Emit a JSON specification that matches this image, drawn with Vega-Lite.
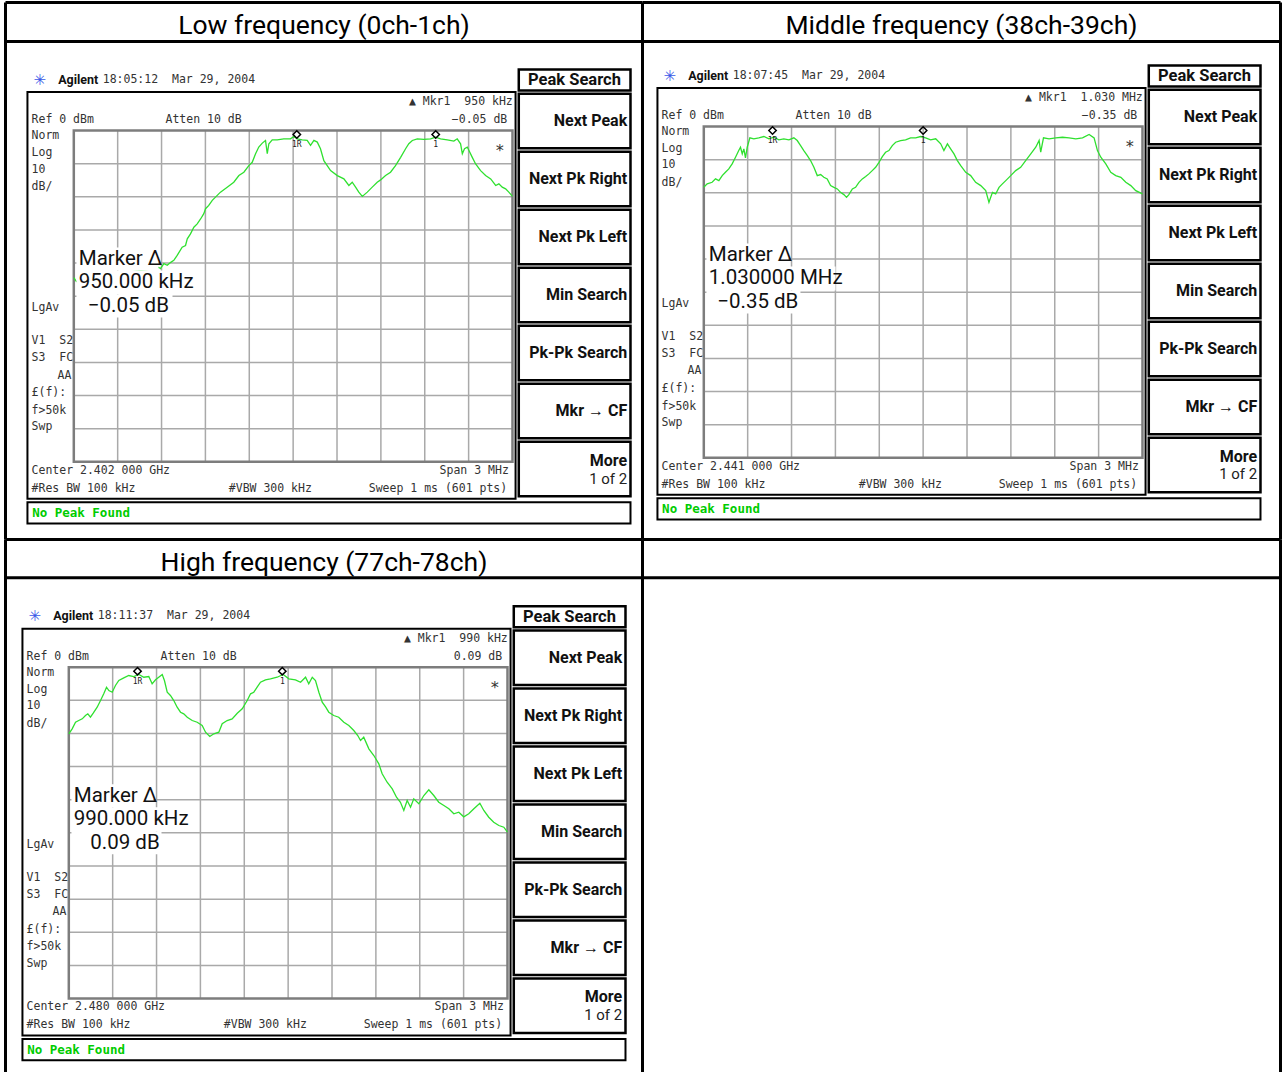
{
  "$schema": "https://vega.github.io/schema/vega-lite/v6.json",
  "background": "white",
  "padding": {"left": 3.5, "top": 0.5, "right": 0, "bottom": 0},
  "columns": 2,
  "align": "each",
  "bounds": "flush",
  "spacing": 0,
  "config": {"view": {"stroke": null}, "concat": {"spacing": 0}},
  "datasets": {
    "segments": [
      {"f": -1.2, "f2": -1.2, "dB": 0, "dB2": -100},
      {"f": -0.9, "f2": -0.9, "dB": 0, "dB2": -100},
      {"f": -0.6, "f2": -0.6, "dB": 0, "dB2": -100},
      {"f": -0.3, "f2": -0.3, "dB": 0, "dB2": -100},
      {"f": 0, "f2": 0, "dB": 0, "dB2": -100},
      {"f": 0.3, "f2": 0.3, "dB": 0, "dB2": -100},
      {"f": 0.6, "f2": 0.6, "dB": 0, "dB2": -100},
      {"f": 0.9, "f2": 0.9, "dB": 0, "dB2": -100},
      {"f": 1.2, "f2": 1.2, "dB": 0, "dB2": -100},
      {"f": -1.5, "f2": 1.5, "dB": -10, "dB2": -10},
      {"f": -1.5, "f2": 1.5, "dB": -20, "dB2": -20},
      {"f": -1.5, "f2": 1.5, "dB": -30, "dB2": -30},
      {"f": -1.5, "f2": 1.5, "dB": -40, "dB2": -40},
      {"f": -1.5, "f2": 1.5, "dB": -50, "dB2": -50},
      {"f": -1.5, "f2": 1.5, "dB": -60, "dB2": -60},
      {"f": -1.5, "f2": 1.5, "dB": -70, "dB2": -70},
      {"f": -1.5, "f2": 1.5, "dB": -80, "dB2": -80},
      {"f": -1.5, "f2": 1.5, "dB": -90, "dB2": -90}
    ],
    "table": [
      {"panel": "low", "f": -1.9671, "f2": 2.3891, "dB": 38.64, "dB2": 38.64},
      {"panel": "low", "f": -1.9671, "f2": -1.9671, "dB": 38.64, "dB2": -123.45},
      {"panel": "low", "f": -1.9671, "f2": 2.3891, "dB": 26.86, "dB2": 26.86},
      {"panel": "mid", "f": -1.9192, "f2": 2.4438, "dB": 37.43, "dB2": 37.43},
      {"panel": "mid", "f": -1.9192, "f2": -1.9192, "dB": 37.43, "dB2": -124.66},
      {"panel": "mid", "f": 2.4438, "f2": 2.4438, "dB": 37.43, "dB2": -124.66},
      {"panel": "mid", "f": -1.9192, "f2": 2.4438, "dB": 25.66, "dB2": 25.66},
      {"panel": "high", "f": -1.9329, "f2": 2.4233, "dB": 38.55, "dB2": 38.55},
      {"panel": "high", "f": -1.9329, "f2": -1.9329, "dB": 38.55, "dB2": -122.33},
      {"panel": "high", "f": -1.9329, "f2": 2.4233, "dB": 26.99, "dB2": 26.99},
      {"panel": "blank", "f": -1.9192, "f2": 2.4438, "dB": 38.55, "dB2": 38.55},
      {"panel": "blank", "f": -1.9192, "f2": -1.9192, "dB": 38.55, "dB2": -122.33},
      {"panel": "blank", "f": 2.4438, "f2": 2.4438, "dB": 38.55, "dB2": -122.33},
      {"panel": "blank", "f": -1.9192, "f2": 2.4438, "dB": 26.99, "dB2": 26.99}
    ],
    "boxes": [
      {"panel": "all", "kind": "grid", "f": -1.5, "f2": 1.5, "dB": 0, "dB2": -100},
      {"panel": "all", "kind": "frame", "f": -1.817, "f2": 1.521, "dB": 11.62, "dB2": -111.17},
      {"panel": "all", "kind": "status", "f": -1.817, "f2": 2.307, "dB": -112.2, "dB2": -118.62},
      {"panel": "all", "kind": "key", "f": 1.543, "f2": 2.307, "dB": 18.41, "dB2": 12.07},
      {"panel": "all", "kind": "key", "f": 1.543, "f2": 2.307, "dB": 11.08, "dB2": -5.37},
      {"panel": "all", "kind": "key", "f": 1.543, "f2": 2.307, "dB": -6.43, "dB2": -22.88},
      {"panel": "all", "kind": "key", "f": 1.543, "f2": 2.307, "dB": -23.94, "dB2": -40.39},
      {"panel": "all", "kind": "key", "f": 1.543, "f2": 2.307, "dB": -41.44, "dB2": -57.89},
      {"panel": "all", "kind": "key", "f": 1.543, "f2": 2.307, "dB": -58.95, "dB2": -75.4},
      {"panel": "all", "kind": "key", "f": 1.543, "f2": 2.307, "dB": -76.46, "dB2": -92.91},
      {"panel": "all", "kind": "key", "f": 1.543, "f2": 2.307, "dB": -93.96, "dB2": -110.41},
      {"panel": "low", "kind": "readout", "f": -1.482, "f2": -0.921, "dB": -35.32, "dB2": -42.26},
      {"panel": "low", "kind": "readout", "f": -1.482, "f2": -0.675, "dB": -42.26, "dB2": -49.5},
      {"panel": "low", "kind": "readout", "f": -1.482, "f2": -0.825, "dB": -49.5, "dB2": -56.44},
      {"panel": "mid", "kind": "readout", "f": -1.482, "f2": -0.921, "dB": -35.32, "dB2": -42.26},
      {"panel": "mid", "kind": "readout", "f": -1.482, "f2": -0.599, "dB": -42.26, "dB2": -49.5},
      {"panel": "mid", "kind": "readout", "f": -1.482, "f2": -0.839, "dB": -49.5, "dB2": -56.44},
      {"panel": "high", "kind": "readout", "f": -1.482, "f2": -0.921, "dB": -35.32, "dB2": -42.26},
      {"panel": "high", "kind": "readout", "f": -1.482, "f2": -0.688, "dB": -42.26, "dB2": -49.5},
      {"panel": "high", "kind": "readout", "f": -1.482, "f2": -0.866, "dB": -49.5, "dB2": -56.44}
    ],
    "texts": [
      {"panel": "all", "kind": "mono", "f": -1.789, "dB": 3.11, "text": "Ref 0 dBm"},
      {"panel": "all", "kind": "mono", "f": -0.873, "dB": 3.11, "text": "Atten 10 dB"},
      {"panel": "all", "kind": "mono", "f": -1.789, "dB": -1.6, "text": "Norm"},
      {"panel": "all", "kind": "mono", "f": -1.789, "dB": -6.85, "text": "Log"},
      {"panel": "all", "kind": "mono", "f": -1.789, "dB": -11.77, "text": "10"},
      {"panel": "all", "kind": "mono", "f": -1.789, "dB": -16.99, "text": "dB/"},
      {"panel": "all", "kind": "mono", "f": -1.789, "dB": -53.52, "text": "LgAv"},
      {"panel": "all", "kind": "mono", "f": -1.789, "dB": -63.6, "text": "V1\u00a0\u00a0S2"},
      {"panel": "all", "kind": "mono", "f": -1.789, "dB": -68.61, "text": "S3\u00a0\u00a0FC"},
      {"panel": "all", "kind": "monoR", "f": -1.516, "dB": -73.95, "text": "AA"},
      {"panel": "all", "kind": "mono", "f": -1.789, "dB": -79.17, "text": "£(f):"},
      {"panel": "all", "kind": "mono", "f": -1.789, "dB": -84.52, "text": "f>50k"},
      {"panel": "all", "kind": "mono", "f": -1.789, "dB": -89.56, "text": "Swp"},
      {"panel": "all", "kind": "mono", "f": -1.789, "dB": -108.06, "text": "#Res BW 100 kHz"},
      {"panel": "all", "kind": "mono", "f": -0.44, "dB": -108.06, "text": "#VBW 300 kHz"},
      {"panel": "all", "kind": "monoR", "f": 1.475, "dB": -102.63, "text": "Span 3 MHz"},
      {"panel": "all", "kind": "monoR", "f": 1.464, "dB": -108.06, "text": "Sweep 1 ms (601 pts)"},
      {"panel": "all", "kind": "monoC", "f": 1.413, "dB": -6.3, "text": "*"},
      {"panel": "all", "kind": "brand", "f": -1.607, "dB": 15.39, "text": "Agilent"},
      {"panel": "all", "kind": "logo", "f": -1.7325, "dB": 15.39, "text": "✳"},
      {"panel": "all", "kind": "keyC", "f": 1.924, "dB": 15.24, "text": "Peak Search"},
      {"panel": "all", "kind": "key", "f": 2.2845, "dB": 2.85, "text": "Next Peak"},
      {"panel": "all", "kind": "key", "f": 2.2845, "dB": -14.65, "text": "Next Pk Right"},
      {"panel": "all", "kind": "key", "f": 2.2845, "dB": -32.16, "text": "Next Pk Left"},
      {"panel": "all", "kind": "key", "f": 2.2845, "dB": -49.67, "text": "Min Search"},
      {"panel": "all", "kind": "key", "f": 2.2845, "dB": -67.17, "text": "Pk-Pk Search"},
      {"panel": "all", "kind": "key", "f": 2.2845, "dB": -84.68, "text": "Mkr → CF"},
      {"panel": "all", "kind": "key", "f": 2.2845, "dB": -99.61, "text": "More"},
      {"panel": "all", "kind": "sub", "f": 2.2845, "dB": -105.04, "text": "1 of 2"},
      {"panel": "all", "kind": "status", "f": -1.785, "dB": -115.39, "text": "No Peak Found"},
      {"panel": "low", "kind": "header", "f": 0.211, "dB": 29.19, "text": "Low frequency (0ch-1ch)"},
      {"panel": "low", "kind": "mono", "f": -1.302, "dB": 15.39, "text": "18:05:12\u00a0\u00a0Mar 29, 2004"},
      {"panel": "low", "kind": "mono", "f": -1.789, "dB": -102.63, "text": "Center 2.402 000 GHz"},
      {"panel": "low", "kind": "monoR", "f": 1.502, "dB": 8.54, "text": "▲ Mkr1\u00a0\u00a0950 kHz"},
      {"panel": "low", "kind": "monoR", "f": 1.464, "dB": 3.11, "text": "−0.05 dB"},
      {"panel": "low", "kind": "big", "f": -1.466, "dB": -38.73, "text": "Marker Δ"},
      {"panel": "low", "kind": "big", "f": -1.466, "dB": -45.79, "text": "950.000 kHz"},
      {"panel": "low", "kind": "big", "f": -1.404, "dB": -52.91, "text": "−0.05 dB"},
      {"panel": "mid", "kind": "header", "f": 0.262, "dB": 28.03, "text": "Middle frequency (38ch-39ch)"},
      {"panel": "mid", "kind": "mono", "f": -1.302, "dB": 15.39, "text": "18:07:45\u00a0\u00a0Mar 29, 2004"},
      {"panel": "mid", "kind": "mono", "f": -1.789, "dB": -102.63, "text": "Center 2.441 000 GHz"},
      {"panel": "mid", "kind": "monoR", "f": 1.502, "dB": 8.54, "text": "▲ Mkr1\u00a0\u00a01.030 MHz"},
      {"panel": "mid", "kind": "monoR", "f": 1.464, "dB": 3.11, "text": "−0.35 dB"},
      {"panel": "mid", "kind": "big", "f": -1.466, "dB": -38.73, "text": "Marker Δ"},
      {"panel": "mid", "kind": "big", "f": -1.466, "dB": -45.79, "text": "1.030000 MHz"},
      {"panel": "mid", "kind": "big", "f": -1.408, "dB": -52.91, "text": "−0.35 dB"},
      {"panel": "high", "kind": "header", "f": 0.245, "dB": 29.1, "text": "High frequency (77ch-78ch)"},
      {"panel": "high", "kind": "mono", "f": -1.302, "dB": 15.39, "text": "18:11:37\u00a0\u00a0Mar 29, 2004"},
      {"panel": "high", "kind": "mono", "f": -1.789, "dB": -102.63, "text": "Center 2.480 000 GHz"},
      {"panel": "high", "kind": "monoR", "f": 1.502, "dB": 8.54, "text": "▲ Mkr1\u00a0\u00a0990 kHz"},
      {"panel": "high", "kind": "monoR", "f": 1.464, "dB": 3.11, "text": "0.09 dB"},
      {"panel": "high", "kind": "big", "f": -1.466, "dB": -38.73, "text": "Marker Δ"},
      {"panel": "high", "kind": "big", "f": -1.466, "dB": -45.79, "text": "990.000 kHz"},
      {"panel": "high", "kind": "big", "f": -1.353, "dB": -52.91, "text": "0.09 dB"}
    ],
    "markers": [
      {"panel": "low", "f": 0.025, "dB": -1.2, "label": "1R"},
      {"panel": "low", "f": 0.975, "dB": -1.2, "label": "1"},
      {"panel": "mid", "f": -1.03, "dB": -1.2, "label": "1R"},
      {"panel": "mid", "f": 0.0, "dB": -1.2, "label": "1"},
      {"panel": "high", "f": -1.03, "dB": -1.2, "label": "1R"},
      {"panel": "high", "f": -0.04, "dB": -1.2, "label": "1"}
    ],
    "trace": [
      {"panel": "low", "f": -1.5, "dB": -44.4}, {"panel": "low", "f": -1.482, "dB": -45.6},
      {"panel": "low", "f": -1.4, "dB": -44.8}, {"panel": "low", "f": -1.3, "dB": -44.0},
      {"panel": "low", "f": -1.2, "dB": -43.2}, {"panel": "low", "f": -1.1, "dB": -42.6},
      {"panel": "low", "f": -1.0, "dB": -42.0}, {"panel": "low", "f": -0.919, "dB": -41.3},
      {"panel": "low", "f": -0.907, "dB": -41.7}, {"panel": "low", "f": -0.884, "dB": -40.2},
      {"panel": "low", "f": -0.861, "dB": -40.7}, {"panel": "low", "f": -0.837, "dB": -39.8},
      {"panel": "low", "f": -0.816, "dB": -39.2}, {"panel": "low", "f": -0.793, "dB": -37.7},
      {"panel": "low", "f": -0.759, "dB": -35.2}, {"panel": "low", "f": -0.736, "dB": -34.7},
      {"panel": "low", "f": -0.724, "dB": -32.7}, {"panel": "low", "f": -0.702, "dB": -31.2},
      {"panel": "low", "f": -0.679, "dB": -29.2}, {"panel": "low", "f": -0.656, "dB": -28.2},
      {"panel": "low", "f": -0.633, "dB": -26.7}, {"panel": "low", "f": -0.611, "dB": -25.1},
      {"panel": "low", "f": -0.599, "dB": -23.6}, {"panel": "low", "f": -0.577, "dB": -22.6},
      {"panel": "low", "f": -0.553, "dB": -21.1}, {"panel": "low", "f": -0.531, "dB": -20.1},
      {"panel": "low", "f": -0.497, "dB": -18.6}, {"panel": "low", "f": -0.451, "dB": -17.1},
      {"panel": "low", "f": -0.406, "dB": -15.6}, {"panel": "low", "f": -0.371, "dB": -13.6},
      {"panel": "low", "f": -0.337, "dB": -12.6}, {"panel": "low", "f": -0.303, "dB": -10.6},
      {"panel": "low", "f": -0.28, "dB": -9.6}, {"panel": "low", "f": -0.257, "dB": -7.0},
      {"panel": "low", "f": -0.235, "dB": -5.0}, {"panel": "low", "f": -0.211, "dB": -3.8},
      {"panel": "low", "f": -0.189, "dB": -3.0}, {"panel": "low", "f": -0.177, "dB": -7.0},
      {"panel": "low", "f": -0.166, "dB": -4.0}, {"panel": "low", "f": -0.143, "dB": -2.8},
      {"panel": "low", "f": -0.109, "dB": -2.8}, {"panel": "low", "f": -0.064, "dB": -2.5},
      {"panel": "low", "f": -0.018, "dB": -2.5}, {"panel": "low", "f": 0.005, "dB": -1.8},
      {"panel": "low", "f": 0.028, "dB": -2.5}, {"panel": "low", "f": 0.062, "dB": -2.8},
      {"panel": "low", "f": 0.096, "dB": -3.0}, {"panel": "low", "f": 0.119, "dB": -4.5},
      {"panel": "low", "f": 0.142, "dB": -3.0}, {"panel": "low", "f": 0.165, "dB": -3.5},
      {"panel": "low", "f": 0.187, "dB": -5.5}, {"panel": "low", "f": 0.21, "dB": -9.1},
      {"panel": "low", "f": 0.233, "dB": -10.6}, {"panel": "low", "f": 0.256, "dB": -12.1},
      {"panel": "low", "f": 0.302, "dB": -13.6}, {"panel": "low", "f": 0.347, "dB": -14.6},
      {"panel": "low", "f": 0.381, "dB": -16.6}, {"panel": "low", "f": 0.404, "dB": -15.6},
      {"panel": "low", "f": 0.427, "dB": -17.1}, {"panel": "low", "f": 0.449, "dB": -18.6},
      {"panel": "low", "f": 0.473, "dB": -19.9}, {"panel": "low", "f": 0.507, "dB": -18.6},
      {"panel": "low", "f": 0.541, "dB": -17.1}, {"panel": "low", "f": 0.575, "dB": -15.6},
      {"panel": "low", "f": 0.598, "dB": -14.9}, {"panel": "low", "f": 0.632, "dB": -13.6},
      {"panel": "low", "f": 0.666, "dB": -12.6}, {"panel": "low", "f": 0.7, "dB": -10.6},
      {"panel": "low", "f": 0.735, "dB": -8.1}, {"panel": "low", "f": 0.769, "dB": -5.5},
      {"panel": "low", "f": 0.791, "dB": -4.0}, {"panel": "low", "f": 0.815, "dB": -3.0},
      {"panel": "low", "f": 0.849, "dB": -2.5}, {"panel": "low", "f": 0.894, "dB": -2.7},
      {"panel": "low", "f": 0.94, "dB": -2.5}, {"panel": "low", "f": 0.974, "dB": -2.0},
      {"panel": "low", "f": 1.008, "dB": -2.5}, {"panel": "low", "f": 1.054, "dB": -2.8},
      {"panel": "low", "f": 1.099, "dB": -3.2}, {"panel": "low", "f": 1.122, "dB": -2.5},
      {"panel": "low", "f": 1.145, "dB": -4.0}, {"panel": "low", "f": 1.157, "dB": -7.0},
      {"panel": "low", "f": 1.172, "dB": -5.5}, {"panel": "low", "f": 1.191, "dB": -5.0},
      {"panel": "low", "f": 1.225, "dB": -8.1}, {"panel": "low", "f": 1.248, "dB": -10.1},
      {"panel": "low", "f": 1.282, "dB": -12.1}, {"panel": "low", "f": 1.316, "dB": -13.6},
      {"panel": "low", "f": 1.351, "dB": -14.6}, {"panel": "low", "f": 1.385, "dB": -16.6},
      {"panel": "low", "f": 1.407, "dB": -16.1}, {"panel": "low", "f": 1.43, "dB": -17.1},
      {"panel": "low", "f": 1.453, "dB": -17.6}, {"panel": "low", "f": 1.475, "dB": -18.6},
      {"panel": "low", "f": 1.5, "dB": -19.9},
      {"panel": "mid", "f": -1.5, "dB": -18.36}, {"panel": "mid", "f": -1.477, "dB": -17.33},
      {"panel": "mid", "f": -1.443, "dB": -16.84}, {"panel": "mid", "f": -1.42, "dB": -15.81},
      {"panel": "mid", "f": -1.397, "dB": -16.33}, {"panel": "mid", "f": -1.374, "dB": -14.82},
      {"panel": "mid", "f": -1.352, "dB": -13.82}, {"panel": "mid", "f": -1.329, "dB": -12.79},
      {"panel": "mid", "f": -1.306, "dB": -11.28}, {"panel": "mid", "f": -1.283, "dB": -9.28},
      {"panel": "mid", "f": -1.261, "dB": -7.26}, {"panel": "mid", "f": -1.249, "dB": -6.26},
      {"panel": "mid", "f": -1.237, "dB": -8.26}, {"panel": "mid", "f": -1.226, "dB": -6.74},
      {"panel": "mid", "f": -1.215, "dB": -9.46}, {"panel": "mid", "f": -1.203, "dB": -6.26},
      {"panel": "mid", "f": -1.185, "dB": -3.42}, {"panel": "mid", "f": -1.158, "dB": -3.72},
      {"panel": "mid", "f": -1.124, "dB": -3.42}, {"panel": "mid", "f": -1.089, "dB": -3.02},
      {"panel": "mid", "f": -1.055, "dB": -3.72}, {"panel": "mid", "f": -1.021, "dB": -3.24},
      {"panel": "mid", "f": -0.987, "dB": -4.02}, {"panel": "mid", "f": -0.953, "dB": -3.72},
      {"panel": "mid", "f": -0.918, "dB": -4.02}, {"panel": "mid", "f": -0.884, "dB": -3.42},
      {"panel": "mid", "f": -0.861, "dB": -4.23}, {"panel": "mid", "f": -0.838, "dB": -5.75},
      {"panel": "mid", "f": -0.816, "dB": -7.26}, {"panel": "mid", "f": -0.792, "dB": -8.77},
      {"panel": "mid", "f": -0.77, "dB": -10.28}, {"panel": "mid", "f": -0.747, "dB": -12.31},
      {"panel": "mid", "f": -0.724, "dB": -14.82}, {"panel": "mid", "f": -0.701, "dB": -14.51},
      {"panel": "mid", "f": -0.679, "dB": -15.33}, {"panel": "mid", "f": -0.656, "dB": -15.81},
      {"panel": "mid", "f": -0.633, "dB": -17.84}, {"panel": "mid", "f": -0.61, "dB": -18.36},
      {"panel": "mid", "f": -0.587, "dB": -18.84}, {"panel": "mid", "f": -0.565, "dB": -19.87},
      {"panel": "mid", "f": -0.542, "dB": -20.56}, {"panel": "mid", "f": -0.524, "dB": -21.38},
      {"panel": "mid", "f": -0.508, "dB": -20.56}, {"panel": "mid", "f": -0.484, "dB": -18.84},
      {"panel": "mid", "f": -0.462, "dB": -18.36}, {"panel": "mid", "f": -0.439, "dB": -16.84},
      {"panel": "mid", "f": -0.416, "dB": -15.81}, {"panel": "mid", "f": -0.393, "dB": -15.12},
      {"panel": "mid", "f": -0.371, "dB": -14.3}, {"panel": "mid", "f": -0.348, "dB": -13.31},
      {"panel": "mid", "f": -0.325, "dB": -12.31}, {"panel": "mid", "f": -0.302, "dB": -10.8},
      {"panel": "mid", "f": -0.279, "dB": -9.07}, {"panel": "mid", "f": -0.257, "dB": -7.77},
      {"panel": "mid", "f": -0.234, "dB": -7.26}, {"panel": "mid", "f": -0.211, "dB": -5.75},
      {"panel": "mid", "f": -0.188, "dB": -4.75}, {"panel": "mid", "f": -0.154, "dB": -4.23},
      {"panel": "mid", "f": -0.12, "dB": -4.02}, {"panel": "mid", "f": -0.086, "dB": -3.42},
      {"panel": "mid", "f": -0.051, "dB": -3.42}, {"panel": "mid", "f": -0.017, "dB": -3.02},
      {"panel": "mid", "f": 0.017, "dB": -3.42}, {"panel": "mid", "f": 0.051, "dB": -4.02},
      {"panel": "mid", "f": 0.086, "dB": -3.72}, {"panel": "mid", "f": 0.12, "dB": -5.23},
      {"panel": "mid", "f": 0.142, "dB": -7.26}, {"panel": "mid", "f": 0.166, "dB": -5.23},
      {"panel": "mid", "f": 0.188, "dB": -6.74}, {"panel": "mid", "f": 0.211, "dB": -8.26},
      {"panel": "mid", "f": 0.234, "dB": -10.28}, {"panel": "mid", "f": 0.257, "dB": -11.79},
      {"panel": "mid", "f": 0.291, "dB": -13.82}, {"panel": "mid", "f": 0.325, "dB": -14.82},
      {"panel": "mid", "f": 0.359, "dB": -16.84}, {"panel": "mid", "f": 0.394, "dB": -17.84},
      {"panel": "mid", "f": 0.428, "dB": -19.35}, {"panel": "mid", "f": 0.45, "dB": -22.89},
      {"panel": "mid", "f": 0.474, "dB": -19.87}, {"panel": "mid", "f": 0.496, "dB": -20.35},
      {"panel": "mid", "f": 0.519, "dB": -18.36}, {"panel": "mid", "f": 0.542, "dB": -17.33},
      {"panel": "mid", "f": 0.565, "dB": -16.33}, {"panel": "mid", "f": 0.599, "dB": -14.82},
      {"panel": "mid", "f": 0.633, "dB": -13.31}, {"panel": "mid", "f": 0.667, "dB": -12.31},
      {"panel": "mid", "f": 0.701, "dB": -10.28}, {"panel": "mid", "f": 0.736, "dB": -8.26},
      {"panel": "mid", "f": 0.77, "dB": -6.26}, {"panel": "mid", "f": 0.793, "dB": -4.23},
      {"panel": "mid", "f": 0.804, "dB": -7.77}, {"panel": "mid", "f": 0.823, "dB": -3.42},
      {"panel": "mid", "f": 0.861, "dB": -3.72}, {"panel": "mid", "f": 0.907, "dB": -3.42},
      {"panel": "mid", "f": 0.953, "dB": -3.24}, {"panel": "mid", "f": 0.998, "dB": -3.42},
      {"panel": "mid", "f": 1.044, "dB": -3.72}, {"panel": "mid", "f": 1.09, "dB": -3.42},
      {"panel": "mid", "f": 1.135, "dB": -2.42}, {"panel": "mid", "f": 1.169, "dB": -3.42},
      {"panel": "mid", "f": 1.192, "dB": -7.26}, {"panel": "mid", "f": 1.215, "dB": -9.28},
      {"panel": "mid", "f": 1.249, "dB": -11.28}, {"panel": "mid", "f": 1.283, "dB": -13.82},
      {"panel": "mid", "f": 1.317, "dB": -14.82}, {"panel": "mid", "f": 1.352, "dB": -15.33},
      {"panel": "mid", "f": 1.386, "dB": -16.84}, {"panel": "mid", "f": 1.42, "dB": -17.84},
      {"panel": "mid", "f": 1.454, "dB": -19.35}, {"panel": "mid", "f": 1.5, "dB": -20.35},
      {"panel": "high", "f": -1.5, "dB": -20.1}, {"panel": "high", "f": -1.477, "dB": -18.59},
      {"panel": "high", "f": -1.454, "dB": -16.6}, {"panel": "high", "f": -1.432, "dB": -16.09},
      {"panel": "high", "f": -1.408, "dB": -15.58}, {"panel": "high", "f": -1.386, "dB": -14.58},
      {"panel": "high", "f": -1.37, "dB": -14.07}, {"panel": "high", "f": -1.352, "dB": -15.09},
      {"panel": "high", "f": -1.333, "dB": -13.88}, {"panel": "high", "f": -1.306, "dB": -12.07},
      {"panel": "high", "f": -1.283, "dB": -10.05}, {"panel": "high", "f": -1.261, "dB": -8.03},
      {"panel": "high", "f": -1.242, "dB": -6.04}, {"panel": "high", "f": -1.226, "dB": -7.03},
      {"panel": "high", "f": -1.203, "dB": -7.55}, {"panel": "high", "f": -1.181, "dB": -5.52},
      {"panel": "high", "f": -1.158, "dB": -4.01}, {"panel": "high", "f": -1.124, "dB": -3.2},
      {"panel": "high", "f": -1.09, "dB": -2.51}, {"panel": "high", "f": -1.056, "dB": -2.81},
      {"panel": "high", "f": -1.021, "dB": -2.2}, {"panel": "high", "f": -0.987, "dB": -3.02},
      {"panel": "high", "f": -0.953, "dB": -2.81}, {"panel": "high", "f": -0.93, "dB": -5.01},
      {"panel": "high", "f": -0.907, "dB": -3.8}, {"panel": "high", "f": -0.885, "dB": -3.02},
      {"panel": "high", "f": -0.861, "dB": -2.2}, {"panel": "high", "f": -0.846, "dB": -4.01},
      {"panel": "high", "f": -0.827, "dB": -7.55}, {"panel": "high", "f": -0.805, "dB": -8.54},
      {"panel": "high", "f": -0.782, "dB": -10.05}, {"panel": "high", "f": -0.759, "dB": -12.07},
      {"panel": "high", "f": -0.736, "dB": -13.58}, {"panel": "high", "f": -0.714, "dB": -14.07},
      {"panel": "high", "f": -0.69, "dB": -15.09}, {"panel": "high", "f": -0.656, "dB": -16.09},
      {"panel": "high", "f": -0.622, "dB": -16.6}, {"panel": "high", "f": -0.588, "dB": -17.6},
      {"panel": "high", "f": -0.565, "dB": -19.62}, {"panel": "high", "f": -0.536, "dB": -20.92},
      {"panel": "high", "f": -0.508, "dB": -20.1}, {"panel": "high", "f": -0.474, "dB": -19.62},
      {"panel": "high", "f": -0.451, "dB": -17.08}, {"panel": "high", "f": -0.417, "dB": -16.09},
      {"panel": "high", "f": -0.383, "dB": -15.58}, {"panel": "high", "f": -0.348, "dB": -13.88},
      {"panel": "high", "f": -0.314, "dB": -12.56}, {"panel": "high", "f": -0.28, "dB": -10.05},
      {"panel": "high", "f": -0.257, "dB": -8.03}, {"panel": "high", "f": -0.235, "dB": -7.55},
      {"panel": "high", "f": -0.212, "dB": -6.04}, {"panel": "high", "f": -0.189, "dB": -4.53},
      {"panel": "high", "f": -0.155, "dB": -3.8}, {"panel": "high", "f": -0.121, "dB": -3.5},
      {"panel": "high", "f": -0.075, "dB": -3.02}, {"panel": "high", "f": -0.034, "dB": -2.2},
      {"panel": "high", "f": 0.005, "dB": -3.5}, {"panel": "high", "f": 0.05, "dB": -3.8},
      {"panel": "high", "f": 0.085, "dB": -4.53}, {"panel": "high", "f": 0.119, "dB": -3.02},
      {"panel": "high", "f": 0.141, "dB": -5.01}, {"panel": "high", "f": 0.165, "dB": -3.02},
      {"panel": "high", "f": 0.187, "dB": -4.01}, {"panel": "high", "f": 0.21, "dB": -7.55},
      {"panel": "high", "f": 0.233, "dB": -10.56}, {"panel": "high", "f": 0.256, "dB": -12.0},
      {"panel": "high", "f": 0.278, "dB": -13.58}, {"panel": "high", "f": 0.312, "dB": -14.58},
      {"panel": "high", "f": 0.346, "dB": -15.09}, {"panel": "high", "f": 0.381, "dB": -16.6},
      {"panel": "high", "f": 0.415, "dB": -17.6}, {"panel": "high", "f": 0.449, "dB": -19.11},
      {"panel": "high", "f": 0.476, "dB": -20.62}, {"panel": "high", "f": 0.495, "dB": -22.13},
      {"panel": "high", "f": 0.517, "dB": -21.13}, {"panel": "high", "f": 0.552, "dB": -24.63},
      {"panel": "high", "f": 0.586, "dB": -26.65}, {"panel": "high", "f": 0.62, "dB": -29.16},
      {"panel": "high", "f": 0.643, "dB": -32.18}, {"panel": "high", "f": 0.677, "dB": -34.71},
      {"panel": "high", "f": 0.712, "dB": -36.71}, {"panel": "high", "f": 0.741, "dB": -39.24},
      {"panel": "high", "f": 0.768, "dB": -40.75}, {"panel": "high", "f": 0.791, "dB": -43.25},
      {"panel": "high", "f": 0.814, "dB": -40.24}, {"panel": "high", "f": 0.837, "dB": -42.26},
      {"panel": "high", "f": 0.859, "dB": -39.72}, {"panel": "high", "f": 0.894, "dB": -41.23},
      {"panel": "high", "f": 0.928, "dB": -38.73}, {"panel": "high", "f": 0.962, "dB": -37.01},
      {"panel": "high", "f": 0.996, "dB": -38.73}, {"panel": "high", "f": 1.03, "dB": -40.75},
      {"panel": "high", "f": 1.065, "dB": -41.74}, {"panel": "high", "f": 1.099, "dB": -42.74},
      {"panel": "high", "f": 1.133, "dB": -44.25}, {"panel": "high", "f": 1.167, "dB": -43.77},
      {"panel": "high", "f": 1.201, "dB": -45.16}, {"panel": "high", "f": 1.235, "dB": -44.25},
      {"panel": "high", "f": 1.27, "dB": -42.74}, {"panel": "high", "f": 1.311, "dB": -41.05},
      {"panel": "high", "f": 1.338, "dB": -43.25}, {"panel": "high", "f": 1.372, "dB": -45.28},
      {"panel": "high", "f": 1.406, "dB": -46.79}, {"panel": "high", "f": 1.441, "dB": -47.78},
      {"panel": "high", "f": 1.475, "dB": -48.29}, {"panel": "high", "f": 1.5, "dB": -49.8}
    ]
  },
  "concat": [
    {
      "width": 637, "height": 537,
      "encoding": {
        "x": {"field": "f", "type": "quantitative", "axis": null, "scale": {"domain": [-1.9671, 2.3891], "nice": false, "zero": false}},
        "y": {"field": "dB", "type": "quantitative", "axis": null, "scale": {"domain": [-123.45, 38.64], "nice": false, "zero": false}}
      },
      "layer": [
        {"data": {"name": "segments"}, "mark": {"type": "rule", "color": "#a9a9a9", "strokeWidth": 1.5}, "encoding": {"x2": {"field": "f2"}, "y2": {"field": "dB2"}}},
        {"data": {"name": "boxes"}, "transform": [{"filter": "datum.kind === 'grid'"}], "mark": {"type": "rect", "fill": "transparent", "stroke": "#7d7d7d", "strokeWidth": 2.5}, "encoding": {"x2": {"field": "f2"}, "y2": {"field": "dB2"}}},
        {"data": {"name": "trace"}, "transform": [{"filter": "datum.panel === 'low'"}], "mark": {"type": "line", "color": "#2fe02f", "strokeWidth": 1.3}},
        {"data": {"name": "boxes"}, "transform": [{"filter": "datum.kind === 'readout' && datum.panel === 'low'"}], "mark": {"type": "rect", "fill": "white"}, "encoding": {"x2": {"field": "f2"}, "y2": {"field": "dB2"}}},
        {"data": {"name": "boxes"}, "transform": [{"filter": "datum.kind === 'frame' || datum.kind === 'status'"}], "mark": {"type": "rect", "fill": "transparent", "stroke": "black", "strokeWidth": 2}, "encoding": {"x2": {"field": "f2"}, "y2": {"field": "dB2"}}},
        {"data": {"name": "boxes"}, "transform": [{"filter": "datum.kind === 'key'"}], "mark": {"type": "rect", "fill": "white", "stroke": "black", "strokeWidth": 2.5}, "encoding": {"x2": {"field": "f2"}, "y2": {"field": "dB2"}}},
        {"data": {"name": "texts"}, "transform": [{"filter": "(datum.panel === 'all' || datum.panel === 'low') && datum.kind === 'mono'"}], "mark": {"type": "text", "font": "DejaVu Sans Mono", "fontSize": 11.5, "align": "left", "baseline": "middle", "color": "#333"}, "encoding": {"text": {"field": "text"}}},
        {"data": {"name": "texts"}, "transform": [{"filter": "(datum.panel === 'all' || datum.panel === 'low') && datum.kind === 'monoR'"}], "mark": {"type": "text", "font": "DejaVu Sans Mono", "fontSize": 11.5, "align": "right", "baseline": "middle", "color": "#333"}, "encoding": {"text": {"field": "text"}}},
        {"data": {"name": "texts"}, "transform": [{"filter": "(datum.panel === 'all' || datum.panel === 'low') && datum.kind === 'monoC'"}], "mark": {"type": "text", "font": "DejaVu Sans Mono", "fontSize": 16, "align": "center", "baseline": "middle", "color": "#333"}, "encoding": {"text": {"field": "text"}}},
        {"data": {"name": "texts"}, "transform": [{"filter": "datum.kind === 'brand'"}], "mark": {"type": "text", "font": "Roboto", "fontWeight": "bold", "fontSize": 12.5, "align": "left", "baseline": "middle", "color": "#111"}, "encoding": {"text": {"field": "text"}}},
        {"data": {"name": "texts"}, "transform": [{"filter": "datum.kind === 'logo'"}], "mark": {"type": "text", "font": "DejaVu Sans", "fontSize": 15, "align": "center", "baseline": "middle", "color": "#3a5ae8"}, "encoding": {"text": {"field": "text"}}},
        {"data": {"name": "texts"}, "transform": [{"filter": "datum.kind === 'key'"}], "mark": {"type": "text", "font": "Roboto", "fontWeight": "bold", "fontSize": 16, "align": "right", "baseline": "middle", "color": "#111"}, "encoding": {"text": {"field": "text"}}},
        {"data": {"name": "texts"}, "transform": [{"filter": "datum.kind === 'keyC'"}], "mark": {"type": "text", "font": "Roboto", "fontWeight": "bold", "fontSize": 16.5, "align": "center", "baseline": "middle", "color": "#111"}, "encoding": {"text": {"field": "text"}}},
        {"data": {"name": "texts"}, "transform": [{"filter": "datum.kind === 'sub'"}], "mark": {"type": "text", "font": "Roboto", "fontSize": 15, "align": "right", "baseline": "middle", "color": "#222"}, "encoding": {"text": {"field": "text"}}},
        {"data": {"name": "texts"}, "transform": [{"filter": "datum.kind === 'status'"}], "mark": {"type": "text", "font": "DejaVu Sans Mono", "fontWeight": "bold", "fontSize": 12.5, "align": "left", "baseline": "middle", "color": "#00cc00"}, "encoding": {"text": {"field": "text"}}},
        {"data": {"name": "texts"}, "transform": [{"filter": "datum.panel === 'low' && datum.kind === 'big'"}], "mark": {"type": "text", "font": "Roboto", "fontSize": 20.5, "align": "left", "baseline": "middle", "color": "#111"}, "encoding": {"text": {"field": "text"}}},
        {"data": {"name": "texts"}, "transform": [{"filter": "datum.panel === 'low' && datum.kind === 'header'"}], "mark": {"type": "text", "font": "Roboto", "fontSize": 26.5, "align": "center", "baseline": "alphabetic", "color": "black"}, "encoding": {"text": {"field": "text"}}},
        {"data": {"name": "markers"}, "transform": [{"filter": "datum.panel === 'low'"}], "mark": {"type": "point", "shape": "diamond", "filled": false, "color": "black", "strokeWidth": 1.5, "size": 55, "opacity": 1}},
        {"data": {"name": "markers"}, "transform": [{"filter": "datum.panel === 'low'"}], "mark": {"type": "text", "font": "DejaVu Sans Mono", "fontSize": 8, "dy": 11, "align": "center", "baseline": "middle", "color": "#222"}, "encoding": {"text": {"field": "label"}}},
        {"data": {"name": "table"}, "transform": [{"filter": "datum.panel === 'low'"}], "mark": {"type": "rule", "color": "black", "strokeWidth": 3}, "encoding": {"x2": {"field": "f2"}, "y2": {"field": "dB2"}}}
      ]
    },
    {
      "width": 638, "height": 537,
      "encoding": {
        "x": {"field": "f", "type": "quantitative", "axis": null, "scale": {"domain": [-1.9192, 2.4438], "nice": false, "zero": false}},
        "y": {"field": "dB", "type": "quantitative", "axis": null, "scale": {"domain": [-124.66, 37.43], "nice": false, "zero": false}}
      },
      "layer": [
        {"data": {"name": "segments"}, "mark": {"type": "rule", "color": "#a9a9a9", "strokeWidth": 1.5}, "encoding": {"x2": {"field": "f2"}, "y2": {"field": "dB2"}}},
        {"data": {"name": "boxes"}, "transform": [{"filter": "datum.kind === 'grid'"}], "mark": {"type": "rect", "fill": "transparent", "stroke": "#7d7d7d", "strokeWidth": 2.5}, "encoding": {"x2": {"field": "f2"}, "y2": {"field": "dB2"}}},
        {"data": {"name": "trace"}, "transform": [{"filter": "datum.panel === 'mid'"}], "mark": {"type": "line", "color": "#2fe02f", "strokeWidth": 1.3}},
        {"data": {"name": "boxes"}, "transform": [{"filter": "datum.kind === 'readout' && datum.panel === 'mid'"}], "mark": {"type": "rect", "fill": "white"}, "encoding": {"x2": {"field": "f2"}, "y2": {"field": "dB2"}}},
        {"data": {"name": "boxes"}, "transform": [{"filter": "datum.kind === 'frame' || datum.kind === 'status'"}], "mark": {"type": "rect", "fill": "transparent", "stroke": "black", "strokeWidth": 2}, "encoding": {"x2": {"field": "f2"}, "y2": {"field": "dB2"}}},
        {"data": {"name": "boxes"}, "transform": [{"filter": "datum.kind === 'key'"}], "mark": {"type": "rect", "fill": "white", "stroke": "black", "strokeWidth": 2.5}, "encoding": {"x2": {"field": "f2"}, "y2": {"field": "dB2"}}},
        {"data": {"name": "texts"}, "transform": [{"filter": "(datum.panel === 'all' || datum.panel === 'mid') && datum.kind === 'mono'"}], "mark": {"type": "text", "font": "DejaVu Sans Mono", "fontSize": 11.5, "align": "left", "baseline": "middle", "color": "#333"}, "encoding": {"text": {"field": "text"}}},
        {"data": {"name": "texts"}, "transform": [{"filter": "(datum.panel === 'all' || datum.panel === 'mid') && datum.kind === 'monoR'"}], "mark": {"type": "text", "font": "DejaVu Sans Mono", "fontSize": 11.5, "align": "right", "baseline": "middle", "color": "#333"}, "encoding": {"text": {"field": "text"}}},
        {"data": {"name": "texts"}, "transform": [{"filter": "(datum.panel === 'all' || datum.panel === 'mid') && datum.kind === 'monoC'"}], "mark": {"type": "text", "font": "DejaVu Sans Mono", "fontSize": 16, "align": "center", "baseline": "middle", "color": "#333"}, "encoding": {"text": {"field": "text"}}},
        {"data": {"name": "texts"}, "transform": [{"filter": "datum.kind === 'brand'"}], "mark": {"type": "text", "font": "Roboto", "fontWeight": "bold", "fontSize": 12.5, "align": "left", "baseline": "middle", "color": "#111"}, "encoding": {"text": {"field": "text"}}},
        {"data": {"name": "texts"}, "transform": [{"filter": "datum.kind === 'logo'"}], "mark": {"type": "text", "font": "DejaVu Sans", "fontSize": 15, "align": "center", "baseline": "middle", "color": "#3a5ae8"}, "encoding": {"text": {"field": "text"}}},
        {"data": {"name": "texts"}, "transform": [{"filter": "datum.kind === 'key'"}], "mark": {"type": "text", "font": "Roboto", "fontWeight": "bold", "fontSize": 16, "align": "right", "baseline": "middle", "color": "#111"}, "encoding": {"text": {"field": "text"}}},
        {"data": {"name": "texts"}, "transform": [{"filter": "datum.kind === 'keyC'"}], "mark": {"type": "text", "font": "Roboto", "fontWeight": "bold", "fontSize": 16.5, "align": "center", "baseline": "middle", "color": "#111"}, "encoding": {"text": {"field": "text"}}},
        {"data": {"name": "texts"}, "transform": [{"filter": "datum.kind === 'sub'"}], "mark": {"type": "text", "font": "Roboto", "fontSize": 15, "align": "right", "baseline": "middle", "color": "#222"}, "encoding": {"text": {"field": "text"}}},
        {"data": {"name": "texts"}, "transform": [{"filter": "datum.kind === 'status'"}], "mark": {"type": "text", "font": "DejaVu Sans Mono", "fontWeight": "bold", "fontSize": 12.5, "align": "left", "baseline": "middle", "color": "#00cc00"}, "encoding": {"text": {"field": "text"}}},
        {"data": {"name": "texts"}, "transform": [{"filter": "datum.panel === 'mid' && datum.kind === 'big'"}], "mark": {"type": "text", "font": "Roboto", "fontSize": 20.5, "align": "left", "baseline": "middle", "color": "#111"}, "encoding": {"text": {"field": "text"}}},
        {"data": {"name": "texts"}, "transform": [{"filter": "datum.panel === 'mid' && datum.kind === 'header'"}], "mark": {"type": "text", "font": "Roboto", "fontSize": 26.5, "align": "center", "baseline": "alphabetic", "color": "black"}, "encoding": {"text": {"field": "text"}}},
        {"data": {"name": "markers"}, "transform": [{"filter": "datum.panel === 'mid'"}], "mark": {"type": "point", "shape": "diamond", "filled": false, "color": "black", "strokeWidth": 1.5, "size": 55, "opacity": 1}},
        {"data": {"name": "markers"}, "transform": [{"filter": "datum.panel === 'mid'"}], "mark": {"type": "text", "font": "DejaVu Sans Mono", "fontSize": 8, "dy": 11, "align": "center", "baseline": "middle", "color": "#222"}, "encoding": {"text": {"field": "label"}}},
        {"data": {"name": "table"}, "transform": [{"filter": "datum.panel === 'mid'"}], "mark": {"type": "rule", "color": "black", "strokeWidth": 3}, "encoding": {"x2": {"field": "f2"}, "y2": {"field": "dB2"}}}
      ]
    },
    {
      "width": 637, "height": 533,
      "encoding": {
        "x": {"field": "f", "type": "quantitative", "axis": null, "scale": {"domain": [-1.9329, 2.4233], "nice": false, "zero": false}},
        "y": {"field": "dB", "type": "quantitative", "axis": null, "scale": {"domain": [-122.33, 38.55], "nice": false, "zero": false}}
      },
      "layer": [
        {"data": {"name": "segments"}, "mark": {"type": "rule", "color": "#a9a9a9", "strokeWidth": 1.5}, "encoding": {"x2": {"field": "f2"}, "y2": {"field": "dB2"}}},
        {"data": {"name": "boxes"}, "transform": [{"filter": "datum.kind === 'grid'"}], "mark": {"type": "rect", "fill": "transparent", "stroke": "#7d7d7d", "strokeWidth": 2.5}, "encoding": {"x2": {"field": "f2"}, "y2": {"field": "dB2"}}},
        {"data": {"name": "trace"}, "transform": [{"filter": "datum.panel === 'high'"}], "mark": {"type": "line", "color": "#2fe02f", "strokeWidth": 1.3}},
        {"data": {"name": "boxes"}, "transform": [{"filter": "datum.kind === 'readout' && datum.panel === 'high'"}], "mark": {"type": "rect", "fill": "white"}, "encoding": {"x2": {"field": "f2"}, "y2": {"field": "dB2"}}},
        {"data": {"name": "boxes"}, "transform": [{"filter": "datum.kind === 'frame' || datum.kind === 'status'"}], "mark": {"type": "rect", "fill": "transparent", "stroke": "black", "strokeWidth": 2}, "encoding": {"x2": {"field": "f2"}, "y2": {"field": "dB2"}}},
        {"data": {"name": "boxes"}, "transform": [{"filter": "datum.kind === 'key'"}], "mark": {"type": "rect", "fill": "white", "stroke": "black", "strokeWidth": 2.5}, "encoding": {"x2": {"field": "f2"}, "y2": {"field": "dB2"}}},
        {"data": {"name": "texts"}, "transform": [{"filter": "(datum.panel === 'all' || datum.panel === 'high') && datum.kind === 'mono'"}], "mark": {"type": "text", "font": "DejaVu Sans Mono", "fontSize": 11.5, "align": "left", "baseline": "middle", "color": "#333"}, "encoding": {"text": {"field": "text"}}},
        {"data": {"name": "texts"}, "transform": [{"filter": "(datum.panel === 'all' || datum.panel === 'high') && datum.kind === 'monoR'"}], "mark": {"type": "text", "font": "DejaVu Sans Mono", "fontSize": 11.5, "align": "right", "baseline": "middle", "color": "#333"}, "encoding": {"text": {"field": "text"}}},
        {"data": {"name": "texts"}, "transform": [{"filter": "(datum.panel === 'all' || datum.panel === 'high') && datum.kind === 'monoC'"}], "mark": {"type": "text", "font": "DejaVu Sans Mono", "fontSize": 16, "align": "center", "baseline": "middle", "color": "#333"}, "encoding": {"text": {"field": "text"}}},
        {"data": {"name": "texts"}, "transform": [{"filter": "datum.kind === 'brand'"}], "mark": {"type": "text", "font": "Roboto", "fontWeight": "bold", "fontSize": 12.5, "align": "left", "baseline": "middle", "color": "#111"}, "encoding": {"text": {"field": "text"}}},
        {"data": {"name": "texts"}, "transform": [{"filter": "datum.kind === 'logo'"}], "mark": {"type": "text", "font": "DejaVu Sans", "fontSize": 15, "align": "center", "baseline": "middle", "color": "#3a5ae8"}, "encoding": {"text": {"field": "text"}}},
        {"data": {"name": "texts"}, "transform": [{"filter": "datum.kind === 'key'"}], "mark": {"type": "text", "font": "Roboto", "fontWeight": "bold", "fontSize": 16, "align": "right", "baseline": "middle", "color": "#111"}, "encoding": {"text": {"field": "text"}}},
        {"data": {"name": "texts"}, "transform": [{"filter": "datum.kind === 'keyC'"}], "mark": {"type": "text", "font": "Roboto", "fontWeight": "bold", "fontSize": 16.5, "align": "center", "baseline": "middle", "color": "#111"}, "encoding": {"text": {"field": "text"}}},
        {"data": {"name": "texts"}, "transform": [{"filter": "datum.kind === 'sub'"}], "mark": {"type": "text", "font": "Roboto", "fontSize": 15, "align": "right", "baseline": "middle", "color": "#222"}, "encoding": {"text": {"field": "text"}}},
        {"data": {"name": "texts"}, "transform": [{"filter": "datum.kind === 'status'"}], "mark": {"type": "text", "font": "DejaVu Sans Mono", "fontWeight": "bold", "fontSize": 12.5, "align": "left", "baseline": "middle", "color": "#00cc00"}, "encoding": {"text": {"field": "text"}}},
        {"data": {"name": "texts"}, "transform": [{"filter": "datum.panel === 'high' && datum.kind === 'big'"}], "mark": {"type": "text", "font": "Roboto", "fontSize": 20.5, "align": "left", "baseline": "middle", "color": "#111"}, "encoding": {"text": {"field": "text"}}},
        {"data": {"name": "texts"}, "transform": [{"filter": "datum.panel === 'high' && datum.kind === 'header'"}], "mark": {"type": "text", "font": "Roboto", "fontSize": 26.5, "align": "center", "baseline": "alphabetic", "color": "black"}, "encoding": {"text": {"field": "text"}}},
        {"data": {"name": "markers"}, "transform": [{"filter": "datum.panel === 'high'"}], "mark": {"type": "point", "shape": "diamond", "filled": false, "color": "black", "strokeWidth": 1.5, "size": 55, "opacity": 1}},
        {"data": {"name": "markers"}, "transform": [{"filter": "datum.panel === 'high'"}], "mark": {"type": "text", "font": "DejaVu Sans Mono", "fontSize": 8, "dy": 11, "align": "center", "baseline": "middle", "color": "#222"}, "encoding": {"text": {"field": "label"}}},
        {"data": {"name": "table"}, "transform": [{"filter": "datum.panel === 'high'"}], "mark": {"type": "rule", "color": "black", "strokeWidth": 3}, "encoding": {"x2": {"field": "f2"}, "y2": {"field": "dB2"}}}
      ]
    },
    {
      "width": 638, "height": 533,
      "encoding": {
        "x": {"field": "f", "type": "quantitative", "axis": null, "scale": {"domain": [-1.9192, 2.4438], "nice": false, "zero": false}},
        "y": {"field": "dB", "type": "quantitative", "axis": null, "scale": {"domain": [-122.33, 38.55], "nice": false, "zero": false}}
      },
      "layer": [
        {"data": {"name": "table"}, "transform": [{"filter": "datum.panel === 'blank'"}], "mark": {"type": "rule", "color": "black", "strokeWidth": 3}, "encoding": {"x2": {"field": "f2"}, "y2": {"field": "dB2"}}}
      ]
    }
  ]
}
